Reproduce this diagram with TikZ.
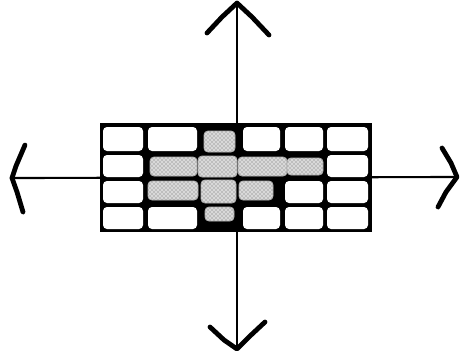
\documentclass[tikz,border=0pt]{standalone}
\usetikzlibrary{patterns}
\begin{document}
\begin{tikzpicture}[x=0.75pt,y=-0.75pt,
  cellbox/.style={fill=white,rounded corners=3pt},
  shadebox/.style={fill=gray!30,draw=gray!60,line width=0.6pt,rounded corners=3pt,
    postaction={pattern=crosshatch dots,pattern color=gray!80!black}},
  axisline/.style={line width=1.6pt,black},
  headline/.style={line width=3.6pt,black,line cap=round,line join=round}]
\useasboundingbox (0,0) rectangle (460,358);
% axes
\coordinate (top) at (237,3);
\coordinate (bot) at (237,349);
\coordinate (lft) at (12,178);
\coordinate (rgt) at (457,177);
\draw[axisline] (top) -- (bot);
\draw[axisline] (lft) -- (rgt);
% arrowheads
\draw[headline] (207,33) -- (222,17) -- (top) -- (252,17) -- (269,35);
\draw[headline] (210,327) -- (224,340) -- (bot) -- (250,336) -- (265,322);
\draw[headline] (25,145) -- (16,166) -- (lft) -- (17,192) -- (23,212);
\draw[headline] (442,148) -- (451,163) -- (rgt) -- (446,192) -- (438,207);
% block
\fill[black] (100,123) rectangle (372,232);
% white cells
\foreach \ya/\yb in {127/151,155/177,181/203,207/229}{
  \fill[cellbox] (103,\ya) rectangle (143,\yb);
  \fill[cellbox] (327,\ya) rectangle (368,\yb);
}
\foreach \ya/\yb in {127/151,207/229}{
  \fill[cellbox] (148,\ya) rectangle (197,\yb);
  \fill[cellbox] (243,\ya) rectangle (280,\yb);
  \fill[cellbox] (285,\ya) rectangle (323,\yb);
}
\fill[cellbox] (285,181) rectangle (323,203);
% shaded cells
\draw[shadebox] (204,131) rectangle (235,152);
\draw[shadebox] (150,157) rectangle (197,176);
\draw[shadebox] (198,156) rectangle (237,177);
\draw[shadebox] (238,157) rectangle (287,176);
\draw[shadebox] (287,158) rectangle (323,175);
\draw[shadebox] (148,181) rectangle (198,200);
\draw[shadebox] (201,180) rectangle (236,203);
\draw[shadebox] (239,181) rectangle (273,200);
\draw[shadebox] (205,207) rectangle (234,221);
\end{tikzpicture}
\end{document}
